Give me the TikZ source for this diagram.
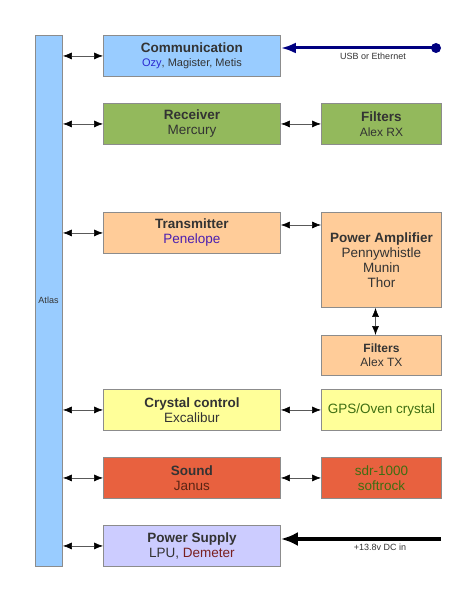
\documentclass[tikz,border=0pt]{standalone}
\usepackage{fontspec}
\setmainfont{Liberation Sans}
\usetikzlibrary{arrows.meta}
\definecolor{cblue}{HTML}{99CCFF}
\definecolor{cgreen}{HTML}{93B95C}
\definecolor{corange}{HTML}{FFCC99}
\definecolor{cyellow}{HTML}{FFFF99}
\definecolor{cred}{HTML}{E8613F}
\definecolor{clav}{HTML}{CCCCFF}
\definecolor{cborder}{HTML}{8C8C8C}
\definecolor{ctext}{HTML}{333333}
\definecolor{cozy}{HTML}{2A2AD0}
\definecolor{cpen}{HTML}{4B1FB0}
\definecolor{cgpstext}{HTML}{3E6E12}
\definecolor{cdem}{HTML}{7A1F1F}
\definecolor{cjan}{HTML}{5A2414}
\definecolor{cnavy}{HTML}{000080}
\tikzset{
  blk/.style={draw=cborder, line width=0.9pt, inner sep=0pt, align=center,
    text=ctext, font=\fontsize{13.5}{15}\selectfont},
  link/.style={draw=black!65, line width=0.6pt,
    {Latex[length=9pt,width=7pt,black]}-{Latex[length=9pt,width=7pt,black]}},
  small/.style={font=\fontsize{9}{10}\selectfont, text=ctext}
}
\begin{document}
\begin{tikzpicture}[x=1pt,y=-1pt]
\useasboundingbox (0,0) rectangle (463,599);
% Atlas bar
\node[blk, fill=cblue, minimum width=27pt, minimum height=531pt, anchor=north west] (atlas) at (35,35) {};
\node[small] (atlaslbl) at (48.5,300) {Atlas};
% middle column
\node[blk, fill=cblue, minimum width=177pt, minimum height=41pt, anchor=north west] (comm) at (103,35)
  {\textbf{Communication}\\[-1pt]{\fontsize{11}{13}\selectfont\textcolor{cozy}{Ozy}, Magister, Metis}};
\node[blk, fill=cgreen, minimum width=177pt, minimum height=41pt, anchor=north west] (recv) at (103,103)
  {\textbf{Receiver}\\Mercury};
\node[blk, fill=corange, minimum width=177pt, minimum height=41pt, anchor=north west] (tx) at (103,212)
  {\textbf{Transmitter}\\\textcolor{cpen}{Penelope}};
\node[blk, fill=cyellow, minimum width=177pt, minimum height=41pt, anchor=north west] (xtal) at (103,389)
  {\textbf{Crystal control}\\Excalibur};
\node[blk, fill=cred, minimum width=177pt, minimum height=41pt, anchor=north west] (sound) at (103,457)
  {\textbf{Sound}\\\textcolor{cjan}{Janus}};
\node[blk, fill=clav, minimum width=177pt, minimum height=41pt, anchor=north west] (psu) at (103,525)
  {\textbf{Power Supply}\\LPU, \textcolor{cdem}{Demeter}};
% right column
\node[blk, fill=cgreen, minimum width=120pt, minimum height=41pt, anchor=north west] (frx) at (321,103)
  {\textbf{Filters}\\{\fontsize{12}{14}\selectfont Alex RX}};
\node[blk, fill=corange, minimum width=120pt, minimum height=95pt, anchor=north west] (pa) at (321,212)
  {\textbf{Power Amplifier}\\Pennywhistle\\Munin\\Thor};
\node[blk, fill=corange, minimum width=120pt, minimum height=40pt, anchor=north west, font=\fontsize{12}{14}\selectfont] (ftx) at (321,335)
  {\textbf{Filters}\\Alex TX};
\node[blk, fill=cyellow, minimum width=120pt, minimum height=41pt, anchor=north west, text=cgpstext] (gps) at (321,389)
  {GPS/Oven crystal};
\node[blk, fill=cred, minimum width=120pt, minimum height=41pt, anchor=north west, text=cgpstext] (sdr) at (321,457)
  {sdr-1000\\softrock};
% links Atlas <-> middle
\foreach \n in {comm,recv,tx,xtal,sound,psu}{
  \draw[link] (\n.west -| atlas.east) -- (\n.west);
}
% links middle <-> right
\draw[link] (recv.east) -- (frx.west);
\draw[link] (tx.east |- 0,225) -- (pa.west |- 0,225);
\draw[link] (xtal.east) -- (gps.west);
\draw[link] (sound.east) -- (sdr.west);
\draw[link] (pa.south -| 375.5,0) -- (ftx.north -| 375.5,0);
% external inputs
\coordinate (usb) at (436,48);
\draw[cnavy, line width=3pt, -{Latex[length=15pt,width=11pt]}] (usb) -- (comm.east |- usb);
\fill[cnavy] (usb) circle (5pt);
\node[small] (usblbl) at (373,56) {USB or Ethernet};
\coordinate (dc) at (441,539);
\draw[black, line width=4pt, -{Latex[length=17pt,width=14pt]}] (dc) -- (psu.east |- dc);
\node[small] (dclbl) at (380,547) {+13.8v DC in};
\end{tikzpicture}
\end{document}
